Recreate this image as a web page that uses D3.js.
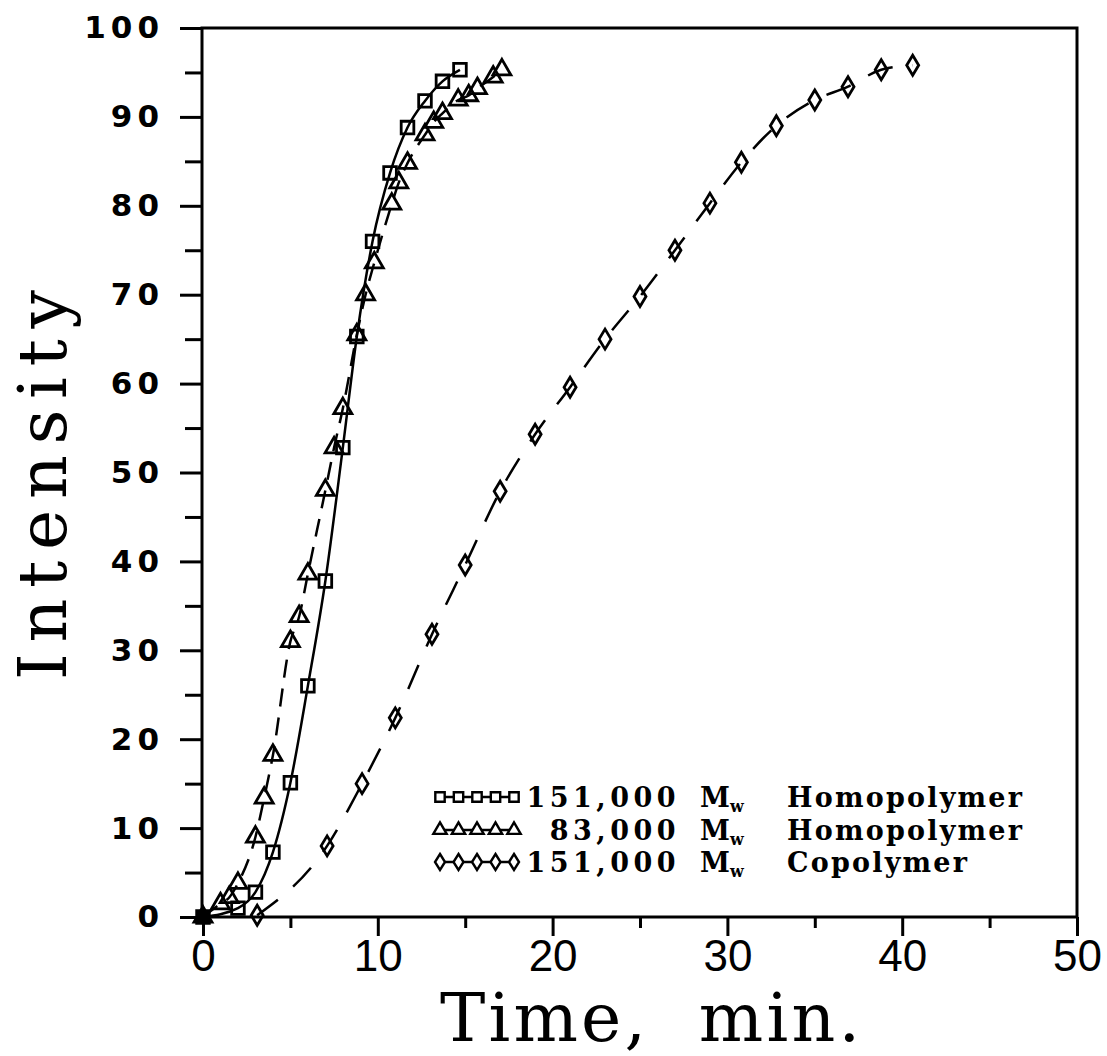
<!DOCTYPE html>
<html>
<head>
<meta charset="utf-8">
<script src="https://cdn.jsdelivr.net/npm/d3@7"></script>
<style>
  body { margin: 0; background: #fff; }
</style>
</head>
<body>
<div id="chart"></div>
<script>

// Data

var homo151Time = [0, 2, 3, 4, 5, 6, 7, 8, 8.8, 9.7, 10.7, 11.7, 12.7, 13.7, 14.7];
var homo151Int  = [0, 1.0, 2.8, 7.3, 15.1, 26, 37.8, 52.8, 65.3, 76, 83.7, 88.8, 91.8, 94, 95.3];

var homo83Time = [0, 1, 1.5, 2, 3, 3.5, 4, 5, 5.5, 6, 7, 7.5, 8, 8.8, 9.3, 9.8, 10.8, 11.2, 11.7, 12.7, 13.2, 13.7, 14.6, 15.2, 15.7, 16.6, 17.1];
var homo83Int  = [0, 1.5, 2.2, 3.8, 9, 13.4, 18.2, 31, 33.8, 38.6, 48, 52.8, 57.2, 65.5, 70, 73.6, 80.2, 82.6, 84.8, 88, 89.4, 90.4, 91.9, 92.4, 93.2, 94.5, 95.3];

var copo151Time = [3.1, 7.1, 9.1, 11, 13.1, 15, 17, 19, 21, 23, 25, 27, 29, 30.8, 32.8, 35, 36.9, 38.8, 40.6];
var copo151Int  = [0.2, 8, 15, 22.4, 31.8, 39.6, 47.9, 54.3, 59.6, 65, 69.8, 75, 80.3, 84.9, 89, 91.9, 93.4, 95.3, 95.8];

var seriesNames  = ["151,000", "83,000", "151,000"];
var seriesKinds  = ["Homopolymer", "Homopolymer", "Copolymer"];

var xTicks      = [0, 10, 20, 30, 40, 50];
var xMinorTicks = [5, 15, 25, 35, 45];
var yTicks      = [0, 10, 20, 30, 40, 50, 60, 70, 80, 90, 100];
var yMinorTicks = [5, 15, 25, 35, 45, 55, 65, 75, 85, 95];

// Dimensions

var width = 1107;
var height = 1056;

var x = d3.scaleLinear().domain([0, 50]).range([203, 1077]);
var y = d3.scaleLinear().domain([0, 100]).range([917, 28]);

var svg = d3.select("#chart").append("svg")
    .attr("width", width)
    .attr("height", height);

// Series setup

function zip(xs, ys) {
  return xs.map(function(v, i) { return { t: v, v: ys[i] }; });
}

var series = [
  { data: zip(homo151Time, homo151Int), symbol: d3.symbolSquare, size: 160, dash: null },
  { data: zip(homo83Time, homo83Int), symbol: d3.symbolTriangle, size: 140, dash: "18,11" },
  { data: zip(copo151Time, copo151Int), symbol: "diamond", size: 0, dash: "26,20" }
];

function symbolPath(s) {
  if (s.symbol === "diamond") return "M0,-10L6,0L0,10L-6,0Z";
  return d3.symbol().type(s.symbol).size(s.size)();
}

// Frame and axes

svg.append("rect")
    .attr("x", x(0) - 1)
    .attr("y", y(100))
    .attr("width", x(50) - x(0) + 1)
    .attr("height", y(0) - y(100))
    .attr("fill", "none")
    .attr("stroke", "#000")
    .attr("stroke-width", 3);

var xAxis = svg.append("g")
    .attr("transform", "translate(0," + y(0) + ")")
    .call(d3.axisBottom(x).tickValues(xTicks).tickSize(19).tickSizeOuter(0).tickPadding(4));

svg.append("g")
    .attr("transform", "translate(0," + y(0) + ")")
    .call(d3.axisBottom(x).tickValues(xMinorTicks).tickSize(11).tickSizeOuter(0).tickFormat(""));

var yAxis = svg.append("g")
    .attr("transform", "translate(" + (x(0) - 1) + ",0)")
    .call(d3.axisLeft(y).tickValues(yTicks).tickSize(22).tickSizeOuter(0).tickPadding(16));

svg.append("g")
    .attr("transform", "translate(" + (x(0) - 1) + ",0)")
    .call(d3.axisLeft(y).tickValues(yMinorTicks).tickSize(17).tickSizeOuter(0).tickFormat(""));

svg.selectAll(".domain").remove();
svg.selectAll(".tick line").attr("stroke", "#000").attr("stroke-width", 3);

xAxis.selectAll("text")
    .attr("font-family", "'Liberation Sans', Arial, sans-serif")
    .attr("font-size", 44)
    .attr("fill", "#000");

yAxis.selectAll("text")
    .attr("font-family", "'DejaVu Sans', sans-serif")
    .attr("font-weight", "bold")
    .attr("font-size", 31)
    .attr("letter-spacing", 5)
    .attr("fill", "#000");

// Axis titles

svg.append("text")
    .attr("x", 650)
    .attr("y", 1041)
    .attr("text-anchor", "middle")
    .attr("font-family", "'DejaVu Serif', serif")
    .attr("font-size", 68)
    .attr("textLength", 420)
    .attr("lengthAdjust", "spacing")
    .attr("xml:space", "preserve")
    .text("Time,  min.");

svg.append("text")
    .attr("transform", "translate(66,485) rotate(-90)")
    .attr("text-anchor", "middle")
    .attr("font-family", "'DejaVu Serif', serif")
    .attr("font-size", 68)
    .attr("textLength", 390)
    .attr("lengthAdjust", "spacing")
    .text("Intensity");

// Lines

var line = d3.line()
    .x(function(d) { return x(d.t); })
    .y(function(d) { return y(d.v); })
    .curve(d3.curveMonotoneX);

series.forEach(function(s) {
  svg.append("path")
      .attr("d", line(s.data))
      .attr("fill", "none")
      .attr("stroke", "#000")
      .attr("stroke-width", 2.5)
      .attr("stroke-dasharray", s.dash);

  svg.selectAll(null)
      .data(s.data)
      .enter()
      .append("path")
      .attr("d", symbolPath(s))
      .attr("transform", function(d) { return "translate(" + x(d.t) + "," + y(d.v) + ")"; })
      .attr("fill", function(d) { return d.t === 0 ? "#000" : "none"; })
      .attr("stroke", "#000")
      .attr("stroke-width", 2.8);
});

// Legend

var legendRows = [797, 830, 862];

series.forEach(function(s, i) {
  var g = svg.append("g").attr("transform", "translate(0," + legendRows[i] + ")");
  var pts = d3.range(5).map(function(k) { return 440 + k * 18.5; });

  g.append("line")
      .attr("x1", pts[0]).attr("x2", pts[4])
      .attr("y1", 0).attr("y2", 0)
      .attr("stroke", "#000")
      .attr("stroke-width", 2.5)
      .attr("stroke-dasharray", s.dash ? "14,5" : null);

  g.selectAll(null)
      .data(pts)
      .enter()
      .append("path")
      .attr("d", s.symbol === "diamond" ? "M0,-8L5,0L0,8L-5,0Z" : d3.symbol().type(s.symbol).size(s.size * 0.55)())
      .attr("transform", function(d) { return "translate(" + d + ",0)"; })
      .attr("fill", "#fff")
      .attr("stroke", "#000")
      .attr("stroke-width", 2.4);

  g.append("text")
      .attr("x", 680)
      .attr("y", 10)
      .attr("text-anchor", "end")
      .attr("font-family", "'DejaVu Serif', serif")
      .attr("font-weight", "bold")
      .attr("font-size", 27)
      .attr("letter-spacing", 4.5)
      .text(seriesNames[i]);

  var mw = g.append("text")
      .attr("x", 700)
      .attr("y", 10)
      .attr("font-family", "'DejaVu Serif', serif")
      .attr("font-weight", "bold")
      .attr("font-size", 27);
  mw.append("tspan").text("M");
  mw.append("tspan").attr("dy", 5).attr("font-size", 16).text("w");

  g.append("text")
      .attr("x", 787)
      .attr("y", 10)
      .attr("font-family", "'DejaVu Serif', serif")
      .attr("font-weight", "bold")
      .attr("font-size", 27)
      .attr("letter-spacing", 2.2)
      .text(seriesKinds[i]);
});

</script>
</body>
</html>
